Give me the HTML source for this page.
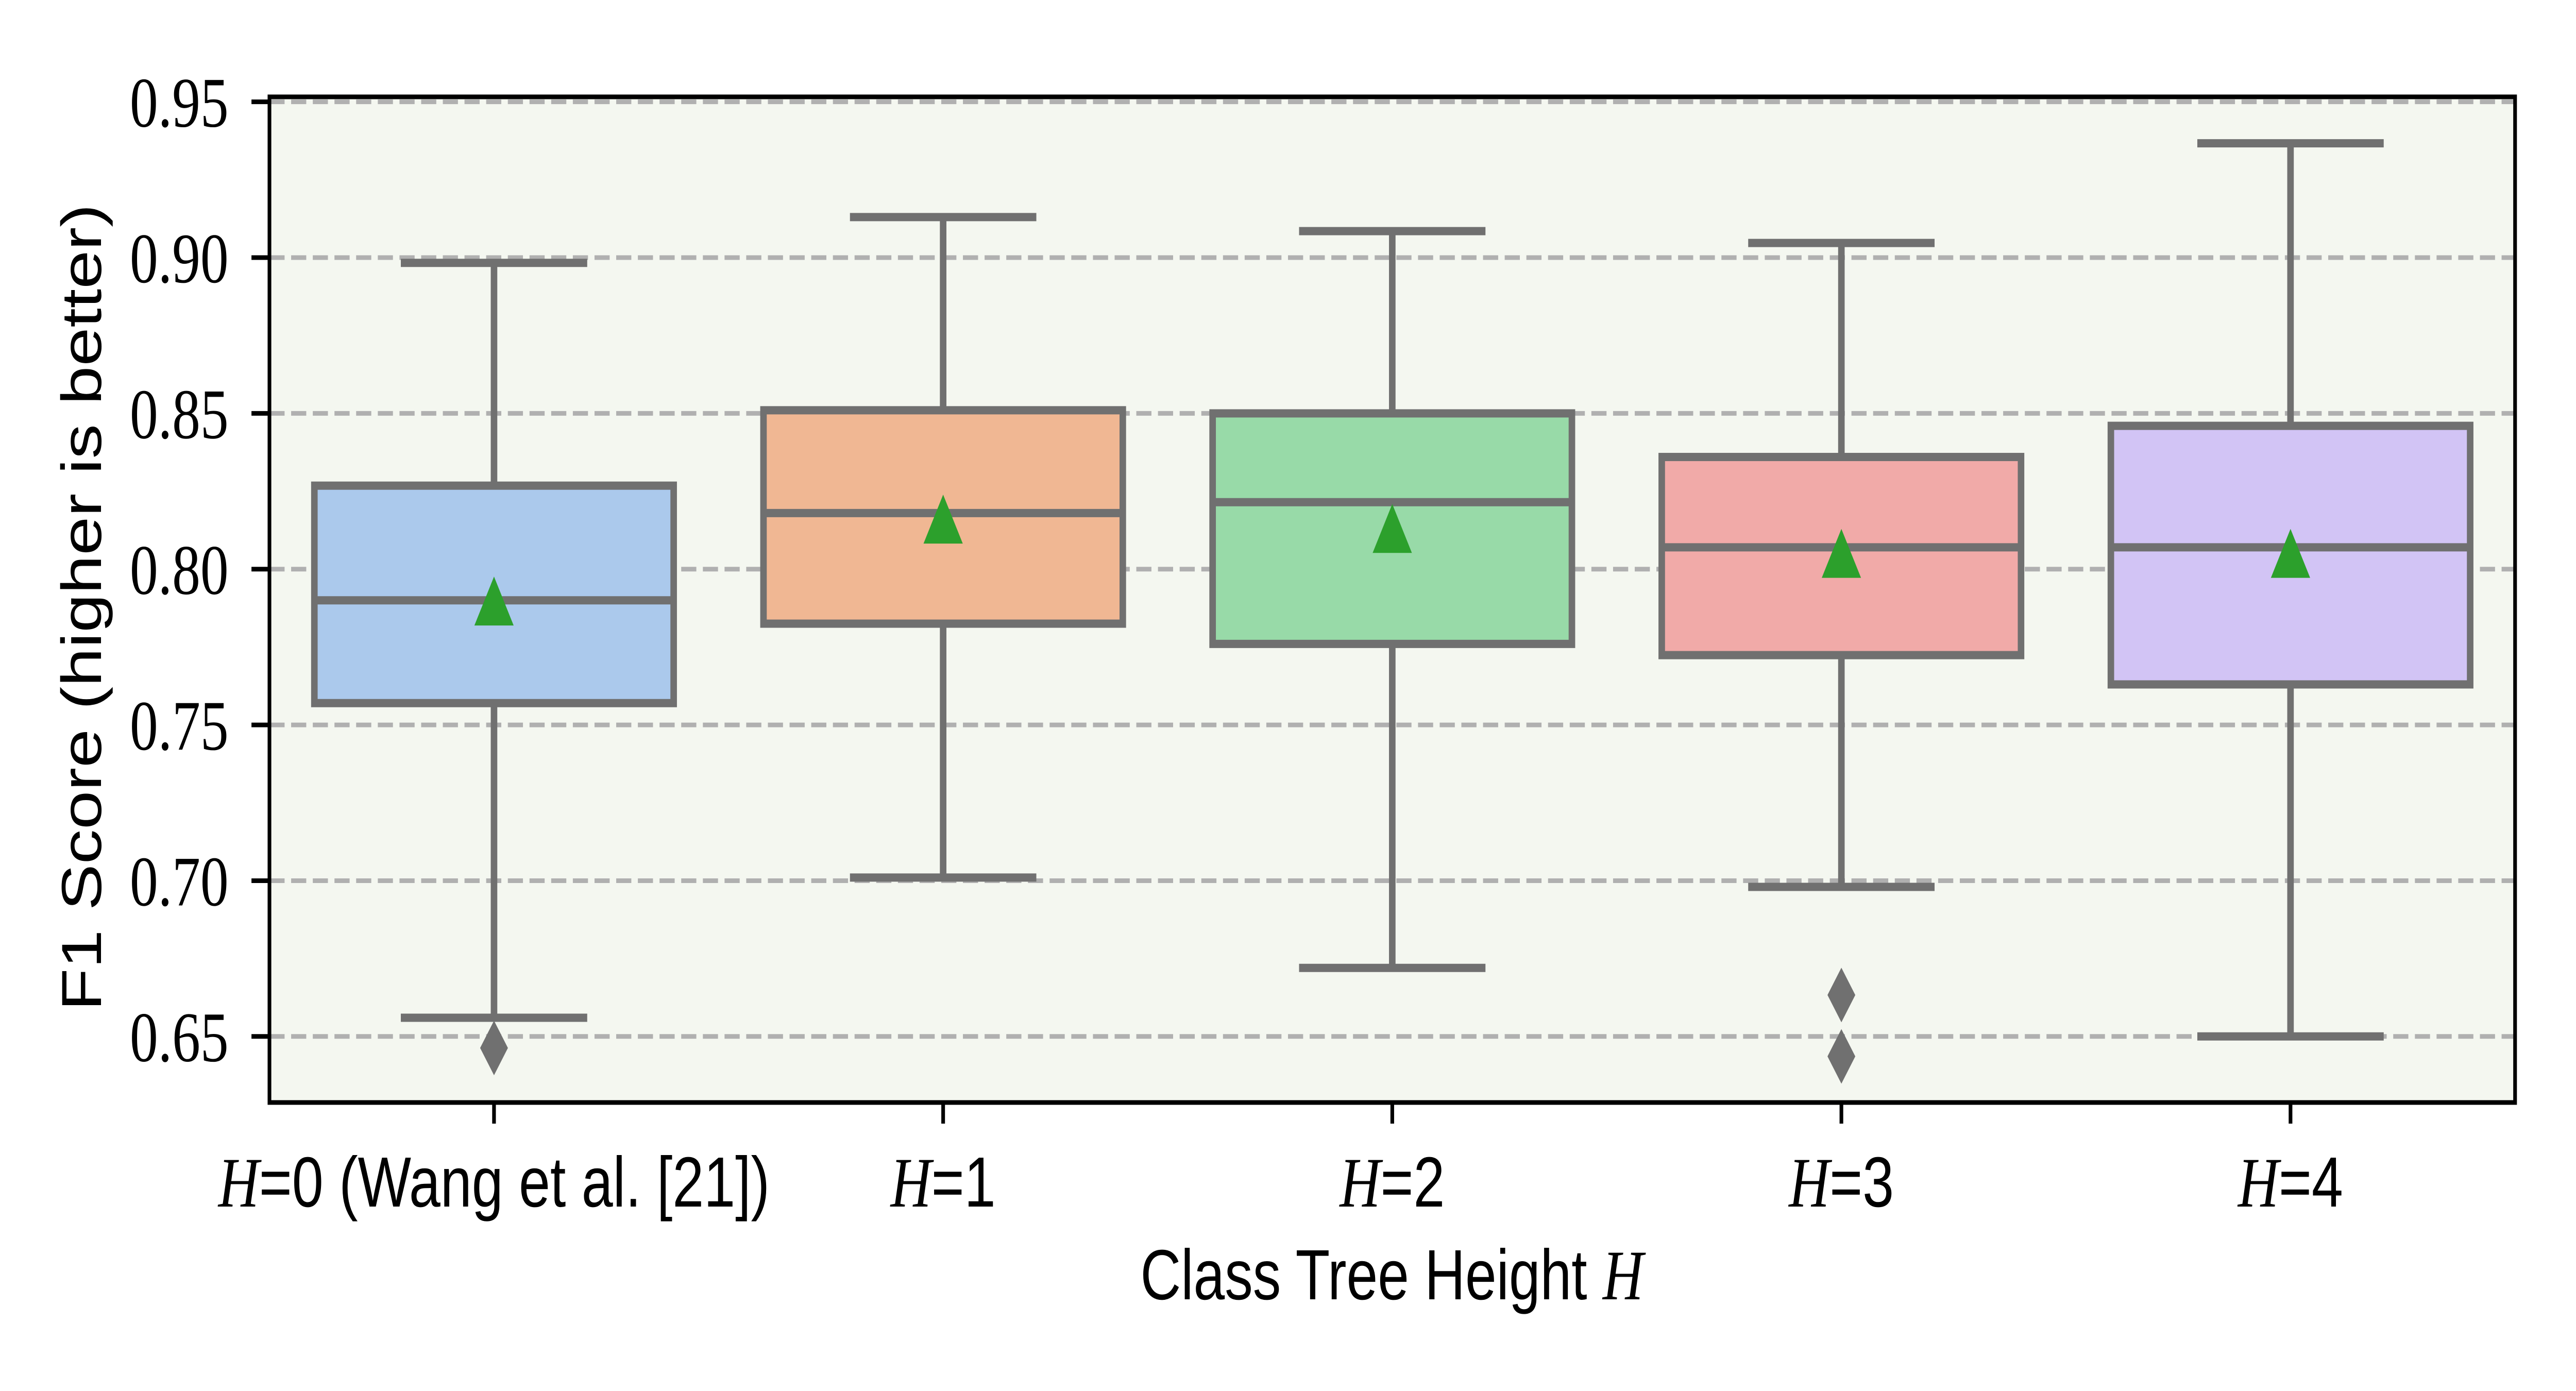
<!DOCTYPE html>
<html><head><meta charset="utf-8"><style>
html,body{margin:0;padding:0;background:#fff;width:100%;height:100%;overflow:hidden;}
svg{display:block;width:100vw;height:100vh;}
</style></head><body>
<svg id="chart" viewBox="0 0 6300 2700" preserveAspectRatio="none" xmlns="http://www.w3.org/2000/svg">
<rect x="0" y="0" width="6300" height="2700" fill="#ffffff"/>
<rect x="659" y="188" width="5492" height="1952" fill="#f4f7f0"/>
<g id="grid"></g>
<g id="boxes"></g>
<g id="axes"></g>
<text x="3404" y="2522" text-anchor="middle" font-family="Liberation Sans, sans-serif" font-size="138" textLength="1230" lengthAdjust="spacingAndGlyphs">Class Tree Height <tspan font-family="Liberation Serif, serif" font-style="italic">H</tspan></text>
<text transform="translate(247,1179) rotate(-90)" text-anchor="middle" font-family="Liberation Sans, sans-serif" font-size="138" textLength="1566" lengthAdjust="spacingAndGlyphs">F1 Score (higher is better)</text>
</svg>
<script>
const categories = ["0 (Wang et al. [21])", "1", "2", "3", "4"];
const whiskerLow = [0.656, 0.701, 0.672, 0.698, 0.650];
const q1Values = [0.757, 0.7825, 0.776, 0.7724, 0.763];
const medianValues = [0.790, 0.818, 0.8215, 0.807, 0.807];
const q3Values = [0.8268, 0.851, 0.850, 0.836, 0.846];
const whiskerHigh = [0.8983, 0.913, 0.9085, 0.9047, 0.9367];
const meanValues = [0.7877, 0.814, 0.811, 0.803, 0.803];
const outliers = [[0.6463], [], [], [0.6633, 0.6436], []];
const yTicks = [0.65, 0.70, 0.75, 0.80, 0.85, 0.90, 0.95];
const yTickLabels = ["0.65", "0.70", "0.75", "0.80", "0.85", "0.90", "0.95"];
const boxColors = ["#abc9ec", "#f0b793", "#98daa8", "#f1aaa8", "#d2c4f5"];

const NS = "http://www.w3.org/2000/svg";
const L = 659, R = 6151, T = 188, B = 2140;
const yMin = 0.6288, yMax = 0.9516;
function yScale(v){ return B - (v - yMin) / (yMax - yMin) * (B - T); }
function xScale(i){ return L + (i + 0.5) * (R - L) / categories.length; }
const band = (R - L) / categories.length;
function mk(tag, attrs, parent){
  const e = document.createElementNS(NS, tag);
  for (const k in attrs) e.setAttribute(k, attrs[k]);
  parent.appendChild(e);
  return e;
}
const grid = document.getElementById('grid');
const boxes = document.getElementById('boxes');
const axes = document.getElementById('axes');
const edge = "#707070", lw = 16;

yTicks.forEach((v, i) => {
  const y = yScale(v);
  const g = mk('line', {x1: L, x2: R, y1: y, y2: y, stroke: '#b0b0b0', 'stroke-width': 9, 'stroke-dasharray': '37 16'}, grid);
  
  
  const t = mk('line', {x1: 615, x2: L, y1: y, y2: y, stroke: '#000', 'stroke-width': 9}, axes);
  
  
  const lab = mk('text', {x: 559, y: y + 48, 'text-anchor': 'end', 'font-family': 'Liberation Serif, serif', 'font-size': 138}, axes);
  lab.textContent = yTickLabels[i];
  
  
});

categories.forEach((c, i) => {
  const cx = xScale(i);
  const bw = band * 0.8, cw = band * 0.415;
  const grp = mk('g', {}, boxes);
  
  
  const w1 = mk('line', {x1: cx, x2: cx, y1: yScale(whiskerLow[i]), y2: yScale(q1Values[i]), stroke: edge, 'stroke-width': lw}, grp);
  
  
  const w2 = mk('line', {x1: cx, x2: cx, y1: yScale(whiskerHigh[i]), y2: yScale(q3Values[i]), stroke: edge, 'stroke-width': lw}, grp);
  
  
  const c1 = mk('line', {x1: cx - cw/2, x2: cx + cw/2, y1: yScale(whiskerLow[i]), y2: yScale(whiskerLow[i]), stroke: edge, 'stroke-width': lw}, grp);
  
  
  const c2 = mk('line', {x1: cx - cw/2, x2: cx + cw/2, y1: yScale(whiskerHigh[i]), y2: yScale(whiskerHigh[i]), stroke: edge, 'stroke-width': lw}, grp);
  
  
  const yq3 = yScale(q3Values[i]), yq1 = yScale(q1Values[i]);
  const rect = mk('rect', {x: cx - bw/2, y: yq3, width: bw, height: yq1 - yq3, fill: boxColors[i], stroke: edge, 'stroke-width': lw}, grp);
  
  
  const ym = yScale(medianValues[i]);
  const med = mk('line', {x1: cx - bw/2, x2: cx + bw/2, y1: ym, y2: ym, stroke: edge, 'stroke-width': lw}, grp);
  
  
  const yMean = yScale(meanValues[i]);
  const tri = mk('polygon', {points: `${cx},${yMean-60} ${cx-48},${yMean+35} ${cx+48},${yMean+35}`, fill: '#2ca02c'}, grp);
  
  
  outliers[i].forEach(v => {
    const yo = yScale(v);
    const d = mk('polygon', {points: `${cx},${yo-53} ${cx+34},${yo} ${cx},${yo+53} ${cx-34},${yo}`, fill: edge}, grp);
    
    
  });
  const tk = mk('line', {x1: cx, x2: cx, y1: B, y2: 2181, stroke: '#000', 'stroke-width': 9}, axes);
  
  
  const lab = mk('text', {x: cx, y: 2342, 'text-anchor': 'middle', 'font-family': 'Liberation Sans, sans-serif', 'font-size': 138}, axes);
  
  
  const h = document.createElementNS(NS, 'tspan');
  h.setAttribute('font-family', 'Liberation Serif, serif');
  h.setAttribute('font-style', 'italic');
  h.textContent = 'H';
  lab.appendChild(h);
  lab.appendChild(document.createTextNode('=' + c));
});

const spine = mk('rect', {x: L, y: T, width: R - L, height: B - T, fill: 'none', stroke: '#000', 'stroke-width': 9}, axes);


</script>
</body></html>
